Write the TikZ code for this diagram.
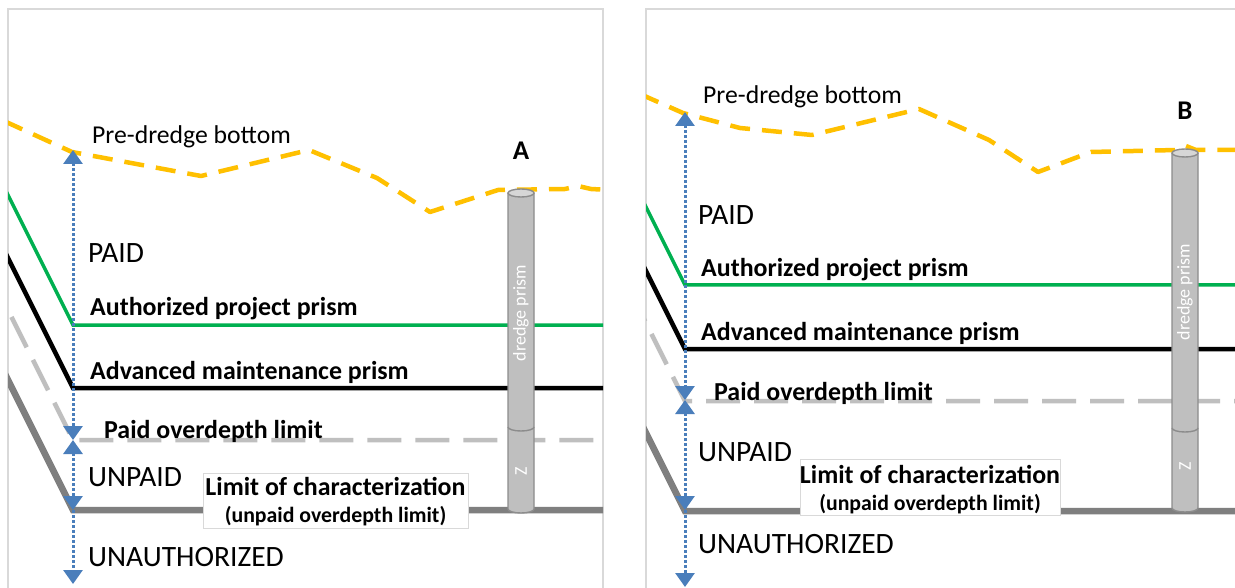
\documentclass[tikz,border=0pt]{standalone}
\usepackage{fontspec}
\setmainfont{Carlito}
\usetikzlibrary{arrows.meta}
\definecolor{gold}{HTML}{FFC000}
\definecolor{pgreen}{HTML}{00B050}
\definecolor{lgray}{HTML}{BFBFBF}
\definecolor{dgray}{HTML}{7F7F7F}
\definecolor{bord}{HTML}{D9D9D9}
\definecolor{ablue}{HTML}{4A7EBB}
\definecolor{cylf}{HTML}{BFBFBF}
\definecolor{cyltop}{HTML}{D6D6D6}
\definecolor{cyld}{HTML}{8C8C8C}
\newcommand{\dcyl}[7]{%
  \path[fill=cylf] (#1-13,#2) -- (#1-13,#4) arc[start angle=180,end angle=360,x radius=13pt,y radius=4pt] -- (#1+13,#2) -- cycle;
  \draw[cylline] (#1-13,#2) -- (#1-13,#4) arc[start angle=180,end angle=360,x radius=13pt,y radius=4pt] -- (#1+13,#2);
  \draw[cylline, fill=cyltop] (#1,#2) ellipse[x radius=13pt, y radius=4pt];
  \draw[cylline] (#1-13,#3-4) arc[start angle=180,end angle=360,x radius=13pt,y radius=4pt];
  \node[cyltext] (#7dp) at (#1,#5) {dredge prism};
  \node[cyltext] (#7z) at (#1,#6) {Z};
}
\begin{document}
\begin{tikzpicture}[x=1pt,y=-1pt,
  panel/.style={draw=bord, line width=1.5pt},
  predredge/.style={gold, line width=4.5pt, dash pattern=on 20pt off 12pt, line join=round},
  authline/.style={pgreen, line width=3.5pt},
  advline/.style={black, line width=4.5pt},
  paidline/.style={lgray, line width=4.5pt, dash pattern=on 34pt off 14pt},
  limline/.style={dgray, line width=6.5pt},
  zonearrow/.style={draw=ablue, line width=3pt, dash pattern=on 2.5pt off 2.5pt,
    arrows={{Triangle[width=19pt,length=14pt,fill=ablue]}-{Triangle[width=19pt,length=14pt,fill=ablue]}}},
  zonedown/.style={draw=ablue, line width=3pt, dash pattern=on 2.5pt off 2.5pt,
    arrows={-{Triangle[width=19pt,length=14pt,fill=ablue]}}},
  cylline/.style={cyld, line width=1.4pt},
  cyltext/.style={rotate=90, text=white, font=\fontsize{18}{20}\selectfont, inner sep=0pt},
  reg/.style={font=\fontsize{25.7}{30}\selectfont, inner sep=0pt, anchor=base west},
  caps/.style={font=\fontsize{29.5}{34}\selectfont, inner sep=0pt, anchor=base west},
  blbl/.style={font=\fontsize{25.9}{30}\selectfont\bfseries, inner sep=0pt, anchor=base west},
  letter/.style={font=\fontsize{27}{31}\selectfont\bfseries, inner sep=0pt, anchor=base},
  limbox/.style={draw=bord, fill=white, line width=1pt, inner sep=0pt},
  limtxt/.style={font=\fontsize{25.9}{30}\selectfont\bfseries, inner sep=0pt, anchor=base},
  subtxt/.style={font=\fontsize{21.8}{26}\selectfont\bfseries, inner sep=0pt, anchor=base}
]
\useasboundingbox (0,0) rectangle (1235,588);
\fill[white] (0,0) rectangle (1235,588);

% ===== Left panel =====
\draw[panel] (8,9) rectangle (603,600);
\begin{scope}
  \clip (8,9) rectangle (603,600);
  \draw[predredge] (4,121) -- (72,152) -- (201,176) -- (309,150) -- (377,178) -- (430,212) -- (498,190) -- (565,189) -- (578,186) -- (591,189) -- (610,190);
  \draw[authline] (-10,159) -- (73,325) -- (620,325);
  \draw[advline] (-10,222) -- (73,388) -- (620,388);
  \draw[paidline] (-10,274) -- (73,440) -- (620,440);
  \draw[limline] (-10,344) -- (73,510) -- (620,510);
\end{scope}
\coordinate (la1) at (73,150);
\coordinate (la2) at (73,440);
\coordinate (la3) at (73,510);
\coordinate (la4) at (73,584);
\draw[zonearrow] (la1) -- (la2);
\draw[zonearrow] (la2) -- (la3);
\draw[zonedown] (la3) -- (la4);
\dcyl{521}{193}{431}{509}{313}{471}{lcyl}
\node[limbox, minimum width=265pt, minimum height=55pt] (lbox) at (335.5,500.5) {};
\node[limtxt] (llim) at (335.5,495) {Limit of characterization};
\node[subtxt] (lsub) at (335.5,522) {(unpaid overdepth limit)};
\node[reg] (lpre) at (92,144) {Pre-dredge bottom};
\node[letter] (lA) at (521,160) {A};
\node[caps] (lpaid) at (88,263) {PAID};
\node[blbl] (lauth) at (90,316) {Authorized project prism};
\node[blbl] (ladv) at (90,379) {Advanced maintenance prism};
\node[blbl] (lpod) at (104,438) {Paid overdepth limit};
\node[caps] (lunpaid) at (88,486) {UNPAID};
\node[caps] (lunauth) at (88,566) {UNAUTHORIZED};

% ===== Right panel =====
\draw[panel] (646,9) rectangle (1245,600);
\begin{scope}
  \clip (646,9) rectangle (1245,600);
  \draw[predredge] (640,94) -- (683,113) -- (740,128) -- (812,135) -- (919,109) -- (989,140) -- (1038,172) -- (1091,152) -- (1176,150) -- (1186,146) -- (1196,150) -- (1245,150);
  \draw[authline] (630,175) -- (685,285) -- (1245,285);
  \draw[advline] (630,239) -- (685,349) -- (1245,349);
  \draw[paidline] (630,291) -- (685,401) -- (1245,401);
  \draw[limline] (630,401) -- (685,511) -- (1245,511);
\end{scope}
\coordinate (ra1) at (685,112);
\coordinate (ra2) at (685,400);
\coordinate (ra3) at (685,510);
\coordinate (ra4) at (685,587);
\draw[zonearrow] (ra1) -- (ra2);
\draw[zonearrow] (ra2) -- (ra3);
\draw[zonedown] (ra3) -- (ra4);
\dcyl{1185}{153}{432}{508}{292}{466}{rcyl}
\node[limbox, minimum width=260pt, minimum height=56pt] (rbox) at (930,487) {};
\node[limtxt] (rlim) at (930,483) {Limit of characterization};
\node[subtxt] (rsub) at (930,510) {(unpaid overdepth limit)};
\node[reg] (rpre) at (703,104) {Pre-dredge bottom};
\node[letter] (rB) at (1185,120) {B};
\node[caps] (rpaid) at (698,225) {PAID};
\node[blbl] (rauth) at (701,277) {Authorized project prism};
\node[blbl] (radv) at (701,341) {Advanced maintenance prism};
\node[blbl] (rpod) at (714,400) {Paid overdepth limit};
\node[caps] (runpaid) at (698,461) {UNPAID};
\node[caps] (runauth) at (698,553) {UNAUTHORIZED};
\end{tikzpicture}
\end{document}
